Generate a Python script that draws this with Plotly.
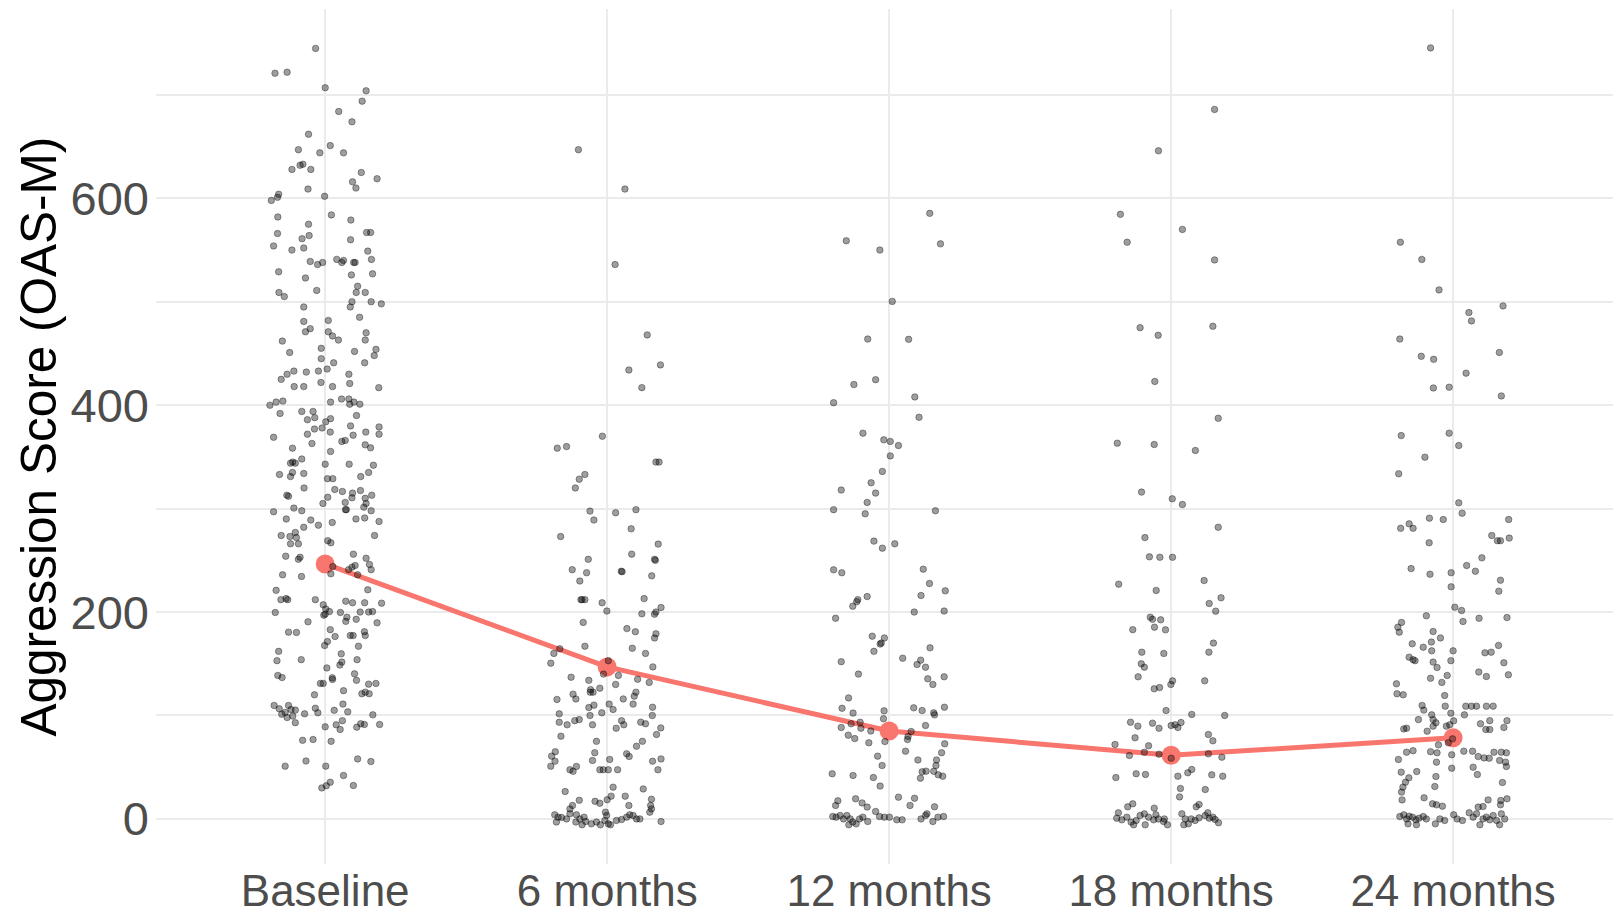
import plotly.graph_objects as go

categories = ["Baseline", "6 months", "12 months", "18 months", "24 months"]
y_tick_values = [0, 200, 400, 600]
means = [246.5, 147, 85, 61.5, 78.5]

# (horizontal jitter offset in category units, OAS-M score) per observation
baseline_points = [
(-0.034,745),(-0.178,721),(-0.135,722),(0.0,707),(0.145,704),(0.131,694),(0.048,684),(0.095,674),(-0.059,662),(-0.095,647),(0.018,651),(-0.019,644),(0.065,644),(-0.079,633),(-0.118,628),(-0.051,628),(-0.089,632),(0.128,625),(0.097,616),(0.109,610),(0.184,619),(-0.061,609),(-0.165,604),(-0.169,601),(-0.191,598),(-0.002,602),(-0.168,582),(0.022,584),(0.091,579),(-0.059,575),(-0.169,566),(-0.057,564),(-0.082,561),(0.147,567),(0.161,567),(-0.183,554),(-0.118,550),(-0.076,552),(0.090,560),(0.151,549),(0.164,541),(-0.053,539),(-0.027,536),(-0.009,538),(0.041,541),(0.059,538),(0.065,540),(0.101,538),(0.106,538),(-0.165,529),(-0.070,523),(0.093,526),(0.168,527),(0.115,515),(-0.030,511),(0.110,509),(0.142,509),(-0.164,509),(-0.145,505),(-0.076,495),(0.095,500),(0.089,495),(0.163,500),(0.199,498),(0.122,485),(0.011,482),(-0.076,481),(-0.053,474),(-0.070,471),(0.011,471),(0.026,467),(0.047,463),(0.145,470),(0.142,463),(-0.152,462),(-0.126,451),(-0.014,455),(0.104,452),(0.180,454),(0.174,448),(-0.014,445),(0.030,441),(0.140,441),(-0.111,433),(-0.135,430),(-0.156,425),(-0.067,432),(-0.024,433),(0.007,435),(0.084,430),(-0.110,418),(-0.076,418),(-0.015,422),(0.026,418),(0.087,421),(0.190,417),(-0.196,400),(-0.174,403),(-0.150,404),(0.019,403),(0.058,406),(0.084,406),(0.102,403),(0.087,401),(0.123,401),(-0.160,392),(-0.083,394),(-0.043,394),(-0.063,386),(-0.037,388),(0.019,387),(0.002,384),(0.111,390),(-0.038,377),(-0.011,378),(0.018,374),(-0.063,372),(0.090,380),(-0.183,369),(0.099,371),(0.144,374),(0.191,379),(0.191,372),(0.071,366),(0.059,365),
(-0.116,358.5),(-0.047,363),(0.142,361.7),(0.161,358.8),(0.019,355.3),(-0.115,345),(-0.106,344),(-0.123,344),(-0.083,348),(0.0,343),(0.085,343),(0.171,342),(-0.162,333),(-0.123,331),(-0.116,335),(-0.076,334),(0.008,329),(0.027,329),(0.126,331),(0.154,335),(-0.075,320),(-0.136,313),(-0.130,312),(0.034,318.5),(0.061,316.6),(0.097,315),(0.095,310.5),(0.125,317.5),(0.142,310),(0.145,305),(0.165,313),(0.009,311),(-0.008,305),(0.071,306),(0.075,299),(0.072,299),(-0.111,300.5),(-0.083,298),(-0.183,297),(0.137,301.4),(0.163,298),(-0.138,290),(-0.051,289),(-0.024,284),(-0.076,282),(0.025,286.6),(0.109,290),(0.140,291),(0.191,287.6),(-0.156,274),(-0.125,273),(-0.106,277),(-0.102,272),(-0.123,266),(-0.095,266),(0.175,274),(0.009,269),(0.020,267),(-0.140,254),(-0.095,251),(-0.089,253),(0.100,256),(0.145,252),(0.157,246),(0.163,241),(0.027,244),(0.020,237),(0.083,241),(0.095,243.4),(0.106,245),(0.115,236),(-0.151,236),(-0.084,234.4),(0.151,221.5),(-0.174,221),(-0.157,212),(-0.139,213),(-0.133,212),(-0.035,212),(-0.007,207),(0.002,203),(0.0,198),(-0.005,197),(0.073,210.5),(0.097,209),(0.140,209),(0.168,200.5),(0.200,208.6),(0.154,200),(-0.177,199.6),(0.015,200.5),(0.054,199.6),(0.077,195),(0.073,191),(0.110,193),(0.124,200),(0.184,189.6),(-0.061,190.6),(-0.130,180.6),(-0.102,180.3),(0.018,183),(0.035,176.4),(0.089,177.3),(0.099,177.3),(0.139,181),(0.142,177.3),(0.008,171.5),(-0.002,167.7),(0.118,167),(-0.165,162),(-0.171,153),(-0.085,154),(0.006,146),(0.057,159.6),(0.059,151.6),(0.052,148.7),(0.113,154),(-0.168,138.7),(-0.153,136.7),(-0.017,131),(-0.007,131),(0.025,136.4),(0.026,134.8),(0.104,140.3),(0.111,134),(0.065,124),(0.154,130.3),(0.180,131),(0.130,121),(0.142,122.5),(0.156,121),(-0.038,120),(-0.181,109.7),(-0.163,106.5),(-0.130,109.7),(-0.121,105.8),(-0.106,105.2),(-0.142,103),(-0.135,98),(-0.115,99.4),(-0.106,93),(-0.154,101.3),(-0.073,101.6),(-0.035,107),(-0.026,102.6),(0.032,105),(0.063,111),(0.080,103.5),(0.061,95),(0.169,100.6),(0.0,89),(0.039,91),(0.053,86.5),(0.112,88.7),(0.126,92),(0.139,91.3),(0.193,91.3),(-0.080,76),(-0.043,76.8),(0.021,75),(-0.068,56),(0.002,51),(0.115,58),(0.162,55.5),(-0.142,51),(0.065,42),(-0.012,30),(0.004,32),(0.018,35.5),(0.100,32.3),
]

month6_points = [
(-0.102,647),(0.063,609),(0.028,536),(0.142,468),(0.189,439),(0.077,434),(0.123,417),(-0.017,370),(-0.144,360),
(-0.177,358.5),(0.173,345),(0.184,345),(-0.079,333),(-0.099,328.5),(-0.113,320),(-0.061,297.6),(-0.047,289),(0.030,296),(0.102,299),(0.085,280.5),(-0.165,273),(0.181,265.7),(0.087,256),(-0.067,251),(0.171,250),(0.168,251),(-0.124,241),(-0.073,238),(-0.097,230),(0.053,239),(0.050,239.5),(0.158,235),(-0.089,212),(-0.079,212),(-0.093,212),(-0.018,209),(-0.001,201),(0.131,213),(0.123,198.3),(0.168,198),(0.173,200),(0.191,204.4),(-0.085,190),(0.070,184),(0.100,181),(0.173,179),(0.168,175),(-0.079,167),(0.089,165),(-0.168,164.5),(-0.189,160),(-0.200,150.6),(0.136,160),(0.162,147),(0.004,153),(-0.013,140),(0.040,138.7),(-0.128,137),(-0.065,134),(-0.060,122.5),(-0.050,122.5),(-0.059,125),(-0.026,126.4),(0.030,130),(0.108,135),(0.102,122.5),(0.096,118.7),(0.149,132),(-0.121,120.6),(-0.111,116),(-0.178,115.5),(0.057,116),(0.092,111),(-0.047,110),(-0.065,107.7),(-0.061,100),(0.007,111),(0.021,105.8),(-0.019,102.6),(0.161,108),(0.160,100),(-0.170,101.6),(-0.170,93.5),(-0.142,91),(-0.115,95),(-0.099,96),(-0.052,91),(0.032,87.7),(0.051,95),(0.059,91),(0.119,93.5),(0.136,92),(0.190,88),(0.175,81.6),(-0.164,80),(-0.038,75),(0.125,75),(0.104,70.3),(-0.184,65),(-0.197,60.7),(-0.185,55.8),(-0.200,51),(-0.044,64),(-0.052,56.5),(0.069,63),(0.078,60.4),(0.009,57.5),(0.161,55.8),(0.191,58),(0.180,47.5),(-0.132,47.5),(-0.121,46),(-0.109,50.7),(-0.026,47.5),(-0.014,47.5),(0.004,47.5),(0.037,47.5),(0.021,30.7),(0.128,29),(-0.149,26.5),(-0.099,18),(-0.123,13),(-0.132,9.7),(-0.043,17),(-0.026,15.2),(0.0,18.5),(0.014,22),(0.064,22),(0.077,13),(0.157,19),(0.154,13),(-0.186,4),(-0.174,1.7),(-0.162,1.4),(-0.144,0),(-0.132,5),(-0.180,-3),(-0.111,-3),(-0.097,0),(-0.082,1.7),(-0.076,-2.5),(-0.089,-5.7),(-0.109,4),(-0.056,-4.8),(-0.038,-3),(-0.024,-5.7),(-0.008,-1.5),(-0.002,3.3),(0.004,-4.8),(0.012,-5.7),(-0.006,6.5),(0.033,-1.5),(0.051,-0.6),(0.069,1.7),(0.080,4),(0.092,3.3),(0.104,0),(0.116,0),(0.151,6.5),(0.157,9.7),(0.191,-2.5),
]

month12_points = [
(0.144,585.5),(-0.152,559),(-0.033,550),(0.182,556),(0.011,500.4),(-0.076,464),(0.069,463.7),(-0.048,424.7),(-0.125,420),(0.091,408),(-0.197,402.4),(0.106,388.3),(-0.093,373),
(-0.019,366.5),(0.004,365),(0.033,361),(0.004,351),(-0.024,336),(-0.064,325),(-0.048,315),(-0.078,306),(-0.085,295),(-0.170,318),(-0.197,299),(0.164,298),(-0.054,268.6),(-0.024,261.8),(0.020,266),(-0.197,240.8),(-0.168,238),(0.121,241.5),(0.143,227.6),(0.113,216),(0.199,220.5),(-0.129,205.7),(-0.115,210),(-0.111,212),(-0.078,215),(0.089,200),(0.195,201),(-0.190,194),(-0.060,176.7),(-0.028,170),(-0.032,169),(-0.017,175),(-0.054,162),(0.145,165.4),(-0.170,152),(0.048,155.4),(0.112,153.5),(0.099,149.3),(0.129,146.7),(-0.109,140),(0.137,135.5),(0.155,130),(0.195,137.4),(-0.144,117),(-0.167,107),(-0.128,102.3),(-0.018,104.5),(-0.020,96.8),(0.087,107.4),(0.117,104.8),(0.158,102.6),(0.161,100.6),(0.196,108),(-0.135,92),(-0.103,93.5),(-0.100,87.7),(-0.170,88.4),(-0.145,81),(-0.122,77.7),(-0.065,85),(-0.072,73.6),(-0.015,74.8),(0.078,84.5),(0.067,79.7),(0.065,76.8),(0.129,90.3),(0.197,72.6),(0.058,65.5),(0.186,64),(0.168,57),(0.166,51.6),(0.158,46),(0.102,57),(-0.041,60.7),(-0.025,51.6),(0.117,45.5),(0.111,39.4),(0.131,46.2),(0.174,42.6),(0.190,41.3),(-0.202,43.6),(-0.128,42),(-0.056,40),(-0.032,31.7),(-0.182,17.5),(-0.190,13),(-0.119,19.4),(-0.096,15.5),(-0.078,11.4),(0.033,21),(0.090,20),(0.074,13),(0.161,11.7),(-0.048,7.2),(-0.200,2.3),(-0.188,1.7),(-0.174,3.3),(-0.162,0),(-0.150,3.3),(-0.138,0),(-0.129,-3),(-0.117,-4.8),(-0.105,0),(-0.093,1.7),(-0.076,-2.5),(-0.143,-5.7),(-0.034,2.3),(-0.017,1.7),(0.001,1.7),(0.027,-0.9),(0.046,-0.9),(0.113,0),(0.129,3.3),(0.134,4.9),(0.155,-2.5),(0.173,1.7),(0.193,2.3),
]

month18_points = [
(0.154,686),(-0.045,646),(-0.180,584.6),(-0.156,557.6),(0.040,570),(0.154,540.5),(-0.110,475),(-0.046,467.6),(0.148,476.3),(-0.058,423),(0.167,387.4),
(-0.191,363.3),(-0.060,362),(0.086,356.2),(-0.105,316),(0.004,309.5),(0.040,304),(0.167,282),(-0.093,272),(-0.077,253.4),(-0.040,253),(0.005,253),(-0.186,227),(-0.053,220.9),(0.117,230.5),(0.135,208.3),(0.177,213.8),(0.158,200.9),(-0.074,195),(-0.066,193),(-0.059,185.4),(-0.037,192.5),(-0.136,183),(-0.020,182.8),(0.150,170),(0.134,161.2),(-0.104,161.2),(-0.026,160),(-0.106,150),(-0.095,146.7),(-0.117,137.4),(0.119,133.5),(0.005,133.5),(-0.001,130),(-0.060,125.8),(-0.041,127),(-0.018,104.8),(0.073,101),(0.190,100),(-0.144,93.5),(-0.118,89.7),(-0.066,92.6),(-0.043,87.7),(0.0,90.3),(0.014,91),(0.024,88.4),(0.035,93.2),(0.132,81.6),(0.148,75.5),(-0.128,78.4),(-0.199,72),(-0.080,70.7),(-0.095,64.5),(-0.148,61.3),(-0.043,62.6),(0.0,58.7),(0.132,62.9),(0.180,59.7),(-0.196,40),(-0.124,43.6),(-0.091,43),(0.024,41.3),(0.059,44.6),(0.073,47.8),(0.144,42.6),(0.183,41.3),(0.033,29.4),(0.030,21.3),(0.121,28.4),(-0.154,11.7),(-0.136,14.6),(-0.060,10.4),(0.089,11.7),(0.099,14),(-0.187,5.9),(-0.193,0.7),(-0.175,-0.9),(-0.157,1.7),(-0.142,-3.1),(-0.133,-5.7),(-0.124,-1.5),(-0.110,3.3),(-0.095,4.9),(-0.092,-5.7),(-0.080,1.7),(-0.062,-0.9),(-0.054,4),(-0.045,0),(-0.027,-2.5),(-0.013,-5.7),(-0.024,0),(0.038,4.9),(0.050,0),(0.061,-4.8),(0.071,0),(0.085,-1.5),(0.099,1),(0.045,-5.7),(0.130,5.9),(0.135,0.7),(0.148,1.7),(0.156,-0.6),(0.168,-3.8),(0.121,3.3),
]

month24_points = [
(-0.080,745.5),(-0.187,557.6),(-0.111,541),(-0.050,511.5),(0.177,496),(0.056,489.6),(0.065,481.5),(-0.189,464),(-0.113,447.3),(-0.069,444.4),(0.164,451),(0.046,431),(-0.070,416.7),(-0.014,417.4),(0.171,409),(-0.184,370.6),(-0.014,373),
(0.020,361),(-0.100,349.8),(-0.193,333.7),(0.020,305.6),(0.032,295.6),(-0.186,281),(-0.156,285.3),(-0.142,281),(-0.084,290.8),(-0.035,289.5),(-0.085,267),(0.197,289.5),(0.137,274),(0.157,269),(0.168,269),(0.199,271.5),(0.102,252.4),(-0.149,242),(-0.082,236.6),(-0.007,238),(-0.007,224.4),(0.048,245),(0.079,239.5),(0.168,230.8),(0.162,220.2),(0.006,204.7),(0.030,201.5),(0.035,190.9),(-0.095,196.4),(0.092,194),(0.191,194.7),(-0.183,190),(-0.196,185.4),(-0.191,180.6),(-0.071,181.2),(-0.045,175),(-0.077,171),(-0.106,166),(-0.076,162.5),(-0.145,169.3),(0.0,162.5),(0.113,160.6),(0.135,161.2),(0.161,167.7),(-0.156,156.4),(-0.142,154),(-0.135,153),(-0.071,151.6),(-0.057,146.4),(-0.008,153),(0.180,151),(-0.021,138.7),(-0.080,136),(-0.040,132),(0.091,142),(0.118,137.7),(0.196,139.3),(-0.201,130.6),(-0.199,121),(-0.177,120),(-0.030,119.3),(-0.110,109.7),(-0.104,105.2),(-0.028,109),(0.045,109),(0.065,109),(0.083,109),(0.118,109),(0.142,109),(-0.123,96),(-0.071,96),(-0.076,100.6),(-0.061,93),(-0.071,89.7),(-0.008,102.2),(0.002,94.8),(-0.024,89.7),(-0.012,91),(0.040,100.6),(0.130,95),(0.097,92),(0.191,95),(0.180,88.4),(0.116,86.4),(0.130,86.4),(-0.165,87.7),(-0.175,87),(-0.092,84.8),(-0.002,77.4),(-0.017,73.6),(-0.052,71.6),(-0.165,64.5),(-0.142,66),(-0.080,65),(-0.057,63.9),(-0.005,62),(0.038,65.5),(0.069,65.5),(0.089,60.3),(0.110,59),(0.128,58.7),(0.145,64.5),(0.171,64.5),(0.189,63.9),(0.165,56.5),(0.186,54.9),(-0.194,57.5),(-0.059,54.9),(-0.005,49),(0.071,50),(-0.184,45.2),(-0.129,45.8),(0.189,50.7),(-0.061,41),(-0.157,39.7),(-0.169,35.5),(0.086,42.9),(-0.065,31.3),(-0.178,30.7),(-0.183,25.9),(-0.181,18.4),(0.175,35.2),(-0.103,20.4),(-0.073,14.6),(-0.059,13.6),(-0.038,12.3),(0.124,18.4),(0.089,11.4),(0.106,12),(0.169,17.8),(0.191,19.4),(0.168,13.6),(-0.189,2.3),(-0.175,3.9),(-0.165,0),(-0.156,2.6),(-0.144,1.7),(-0.132,-0.9),(-0.121,0.7),(-0.106,2.3),(-0.095,0),(-0.160,-4.8),(-0.130,-5.7),(-0.063,-4.8),(-0.047,0),(-0.030,-1.5),(0.002,4),(0.014,0),(0.033,-1.5),(0.057,5.9),(0.071,1.7),(0.083,4.9),(0.095,-5.7),(0.106,0),(0.118,1.7),(0.130,-0.9),(0.142,3.3),(0.154,-1.5),(0.165,-5.7),(0.171,4.9),(0.183,0),
]

groups = [baseline_points, month6_points, month12_points, month18_points, month24_points]

FONT = "Liberation Sans, Arial, Helvetica, sans-serif"
GRID = "#EBEBEB"
RED = "#F8766D"

fig = go.Figure()

# mean trajectory (drawn beneath the points)
fig.add_trace(go.Scatter(
    x=list(range(1, 6)), y=means, mode="lines+markers",
    line=dict(color=RED, width=5),
    marker=dict(color=RED, size=19),
    hoverinfo="skip", showlegend=False,
))

xs, ys = [], []
for i, pts in enumerate(groups):
    for dx, v in pts:
        xs.append(i + 1 + dx)
        ys.append(v)

fig.add_trace(go.Scatter(
    x=xs, y=ys, mode="markers",
    marker=dict(size=6.5, color="rgba(0,0,0,0.38)",
                line=dict(color="rgba(0,0,0,0.4)", width=0.9)),
    showlegend=False,
))

fig.update_layout(
    width=1613, height=916,
    margin=dict(l=156, r=0, t=9, b=52, autoexpand=False),
    plot_bgcolor="white", paper_bgcolor="white",
    font=dict(family=FONT),
    showlegend=False,
    xaxis=dict(
        range=[0.4, 5.567], tickmode="array", tickvals=list(range(1, 6)), ticktext=categories,
        showgrid=True, gridcolor=GRID, gridwidth=2, zeroline=False, showline=False,
        ticks="", tickfont=dict(size=44, color="#4D4D4D", family=FONT),
        ticklabelstandoff=-3,
        automargin=False,
    ),
    yaxis=dict(
        range=[-43.6, 783.1], tickmode="array", tickvals=y_tick_values,
        showgrid=True, gridcolor=GRID, gridwidth=2, zeroline=False, showline=False,
        ticks="", tickfont=dict(size=47, color="#4D4D4D", family=FONT),
        ticklabelstandoff=6,
        minor=dict(tickmode="array", tickvals=[100, 300, 500, 700], showgrid=True,
                   gridcolor=GRID, gridwidth=1.5, ticks=""),
        automargin=False,
    ),
    annotations=[dict(
        text="Aggression Score (OAS-M)", textangle=-90,
        xref="paper", yref="paper", x=(38 - 156) / 1457, y=0.5,
        xanchor="center", yanchor="middle", showarrow=False,
        font=dict(size=49.5, color="black", family=FONT),
    )],
)

fig.write_html("out.html")
